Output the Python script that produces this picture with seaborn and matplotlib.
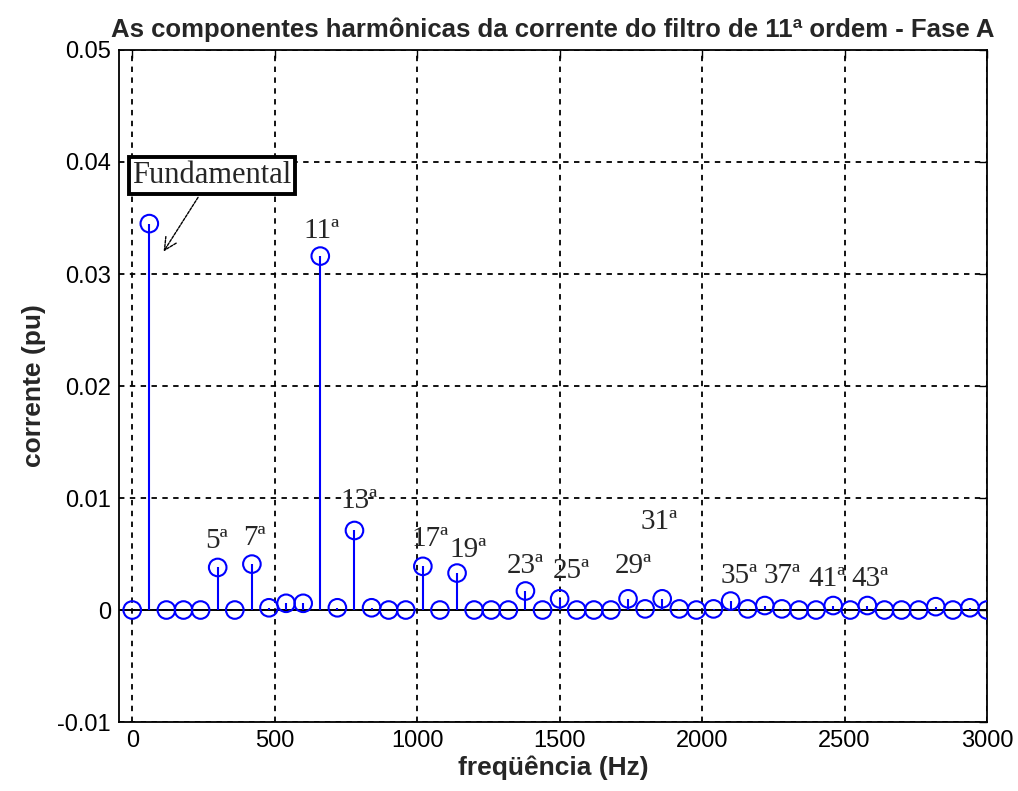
import matplotlib
matplotlib.use("Agg")
import matplotlib.pyplot as plt
import seaborn as sns
import pandas as pd

# harmonic spectrum, phase A (60 Hz steps)
freqs = [0, 60, 120, 180, 240, 300, 360, 420, 480, 540,
         600, 660, 720, 780, 840, 900, 960, 1020, 1080, 1140,
         1200, 1260, 1320, 1380, 1440, 1500, 1560, 1620, 1680, 1740,
         1800, 1860, 1920, 1980, 2040, 2100, 2160, 2220, 2280, 2340,
         2400, 2460, 2520, 2580, 2640, 2700, 2760, 2820, 2880, 2940, 3000]
current = [0.0, 0.0345, 0.0, 0.0, 0.0, 0.0038, 0.0, 0.0041, 0.0002, 0.0006,
           0.0006, 0.0316, 0.0002, 0.0071, 0.0002, 0.0, 0.0, 0.0039, 0.0, 0.0033,
           0.0, 0.0, 0.0, 0.0017, 0.0, 0.0010, 0.0, 0.0, 0.0, 0.0010,
           0.0001, 0.0010, 0.0001, 0.0, 0.0001, 0.0008, 0.0001, 0.0004, 0.0001, 0.0,
           0.0, 0.0004, 0.0, 0.0004, 0.0, 0.0, 0.0, 0.0003, 0.0, 0.0002, 0.0]

# harmonic order labels
label_text = ["11ª", "5ª", "7ª", "13ª", "17ª", "19ª", "23ª", "25ª", "29ª", "31ª",
              "35ª", "37ª", "41ª", "43ª"]
label_x = [665, 295, 430, 795, 1045, 1180, 1380, 1540, 1760, 1850,
           2130, 2280, 2440, 2590]
label_y = [0.0338, 0.0062, 0.0064, 0.0097, 0.0063, 0.0054, 0.0039, 0.0035, 0.0039, 0.0079,
           0.0030, 0.0030, 0.0028, 0.0028]

df = pd.DataFrame({"freq": freqs, "corrente": current})

sns.set_style("white")
sans = ["Liberation Sans Narrow", "Liberation Sans", "DejaVu Sans"]
plt.rcParams["font.family"] = sans
serif = ["Liberation Serif", "DejaVu Serif"]

fig = plt.figure(figsize=(10.18, 7.91), dpi=100)
ax = fig.add_axes([0.117, 0.0872, 0.8526, 0.8496])

ax.set_xlim(-46, 3000)
ax.set_ylim(-0.01, 0.05)
ax.set_xticks([0, 500, 1000, 1500, 2000, 2500, 3000])
ax.set_yticks([-0.01, 0, 0.01, 0.02, 0.03, 0.04, 0.05])
ax.set_yticklabels(["-0.01", "0", "0.01", "0.02", "0.03", "0.04", "0.05"])

ax.grid(True, color="black", linestyle=(0, (3, 3)), linewidth=1.3)
ax.set_axisbelow(True)

# baseline and stems
ax.axhline(0, color="black", linewidth=1.4, zorder=2)
ax.vlines(df["freq"], 0, df["corrente"], color="#0000ff", linewidth=1.5, zorder=3)
sns.scatterplot(data=df, x="freq", y="corrente", ax=ax, marker="o", s=160,
                facecolors="none", edgecolor="#0000ff", linewidth=1.5, zorder=4)

for t, x, y in zip(label_text, label_x, label_y):
    ax.text(x, y, t, ha="center", va="center", fontsize=21,
            family=serif, zorder=5)

ax.annotate("Fundamental", xy=(105, 0.0318), xytext=(280, 0.0388),
            ha="center", va="center", fontsize=22, family=serif,
            bbox=dict(boxstyle="square,pad=0.12", fc="white", ec="black", lw=2.8),
            arrowprops=dict(arrowstyle="->", color="black", lw=1, linestyle=(0, (2, 1))),
            zorder=6)

for s in ax.spines.values():
    s.set_color("black")
    s.set_linewidth(1.3)
ax.tick_params(direction="in", length=6, width=1, top=True, right=True,
               labelsize=17, colors="black", pad=6)

ax.set_xlabel("freqüência (Hz)", fontsize=19, fontweight="bold", labelpad=2)
ax.set_ylabel("corrente (pu)", fontsize=19, fontweight="bold", labelpad=8)
ax.set_title("As componentes harmônicas da corrente do filtro de 11ª ordem - Fase A",
             fontsize=18.5, fontweight="bold", pad=9)

fig.savefig("out.png", dpi=100)
